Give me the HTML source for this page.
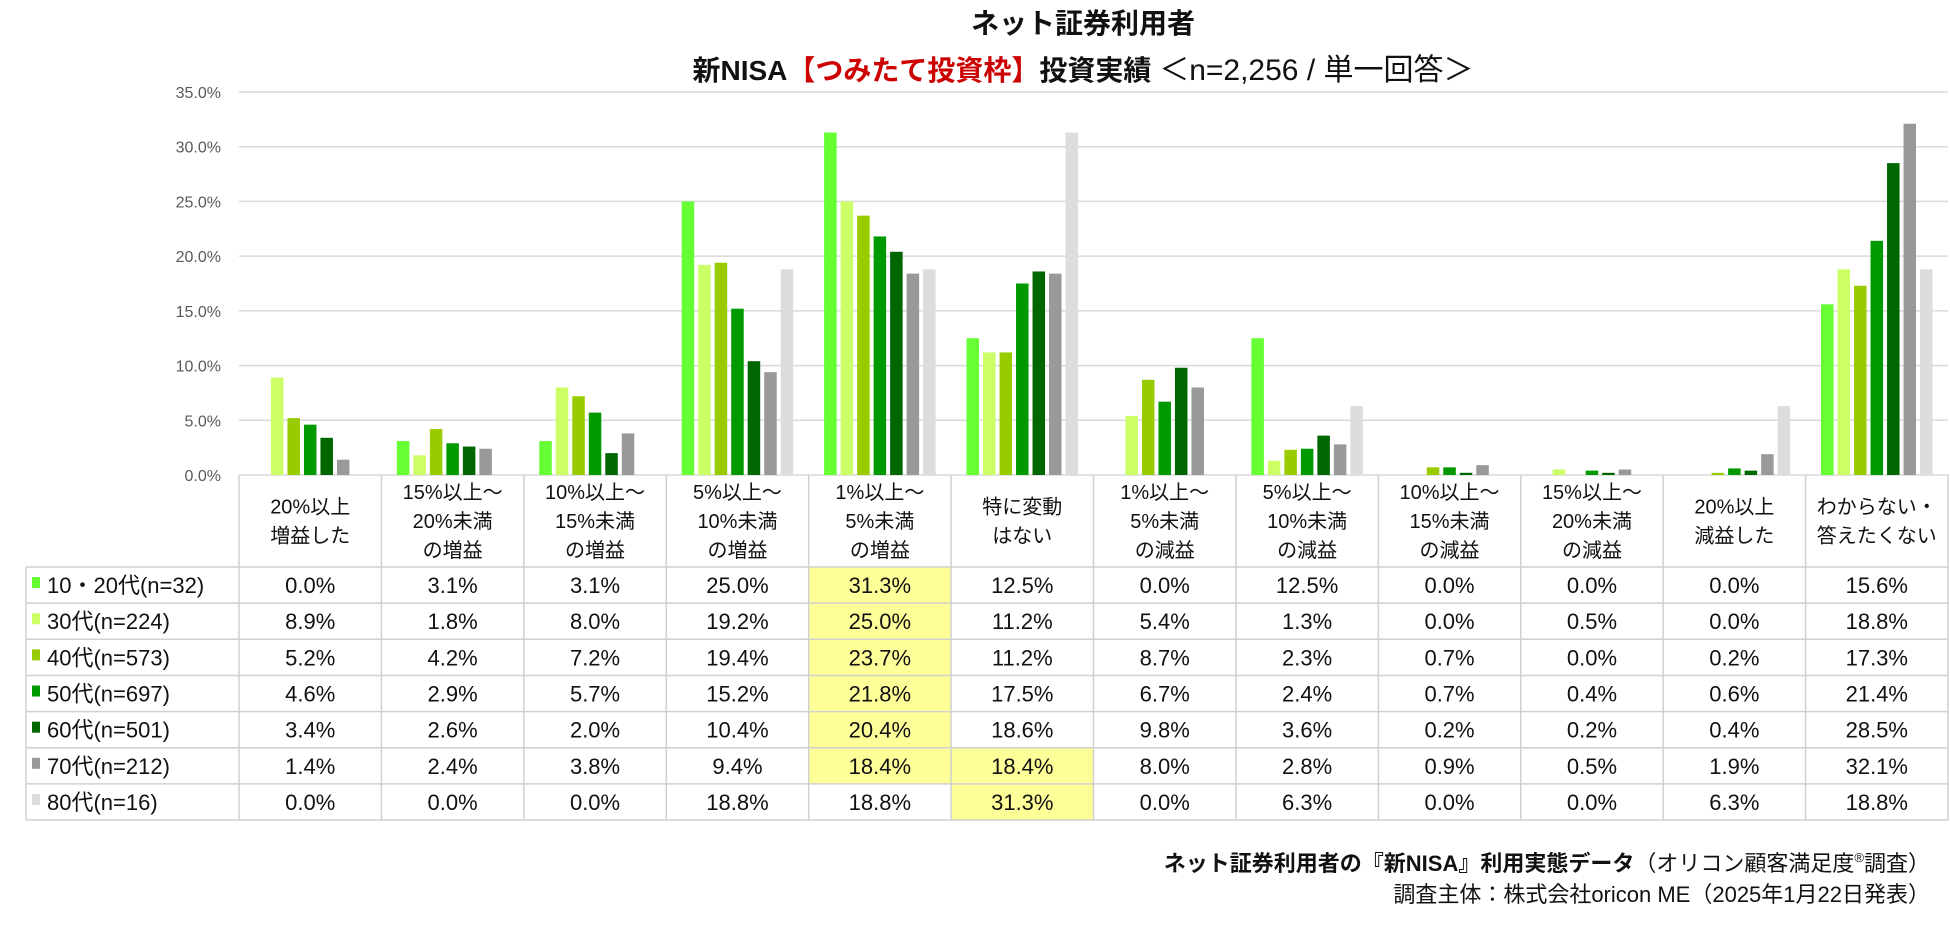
<!DOCTYPE html>
<html><head><meta charset="utf-8">
<style>
html,body{margin:0;padding:0;background:#fff;}
svg{display:block;font-family:"Liberation Sans","Noto Sans CJK JP",sans-serif;}
</style></head>
<body>
<svg id="chart" width="1950" height="929" viewBox="0 0 1950 929" xmlns="http://www.w3.org/2000/svg">
<text x="1083" y="33" text-anchor="middle" font-size="28" font-weight="bold" fill="#111">ネット証券利用者</text>
<text x="1083" y="80" text-anchor="middle" font-size="28" font-weight="bold" fill="#111">新NISA<tspan fill="#cc0000">【つみたて投資枠】</tspan>投資実績 <tspan font-weight="normal" font-size="30">＜n=2,256 / 単一回答＞</tspan></text>
<g id="grid"></g>
<g id="bars"></g>
<g id="table"></g>
<text x="1930" y="871" text-anchor="end" font-size="22" font-weight="bold" fill="#111">ネット証券利用者の『新NISA』利用実態データ<tspan font-weight="normal">（オリコン顧客満足度<tspan font-size="13" dy="-9">®</tspan><tspan dy="9">調査）</tspan></tspan></text>
<text x="1930" y="902" text-anchor="end" font-size="22" fill="#111">調査主体：株式会社oricon ME（2025年1月22日発表）</text>
</svg>
<script>
const categories = [["20%以上","増益した"],["15%以上～","20%未満","の増益"],["10%以上～","15%未満","の増益"],["5%以上～","10%未満","の増益"],["1%以上～","5%未満","の増益"],["特に変動","はない"],["1%以上～","5%未満","の減益"],["5%以上～","10%未満","の減益"],["10%以上～","15%未満","の減益"],["15%以上～","20%未満","の減益"],["20%以上","減益した"],["わからない・","答えたくない"]];
const seriesNames = ["10・20代(n=32)","30代(n=224)","40代(n=573)","50代(n=697)","60代(n=501)","70代(n=212)","80代(n=16)"];
const s1020 = [0.0,3.1,3.1,25.0,31.3,12.5,0.0,12.5,0.0,0.0,0.0,15.6];
const s30 = [8.9,1.8,8.0,19.2,25.0,11.2,5.4,1.3,0.0,0.5,0.0,18.8];
const s40 = [5.2,4.2,7.2,19.4,23.7,11.2,8.7,2.3,0.7,0.0,0.2,17.3];
const s50 = [4.6,2.9,5.7,15.2,21.8,17.5,6.7,2.4,0.7,0.4,0.6,21.4];
const s60 = [3.4,2.6,2.0,10.4,20.4,18.6,9.8,3.6,0.2,0.2,0.4,28.5];
const s70 = [1.4,2.4,3.8,9.4,18.4,18.4,8.0,2.8,0.9,0.5,1.9,32.1];
const s80 = [0.0,0.0,0.0,18.8,18.8,31.3,0.0,6.3,0.0,0.0,6.3,18.8];
const yTicks = [0,5,10,15,20,25,30,35];
const highlights = [[0,4],[1,4],[2,4],[3,4],[4,4],[5,4],[5,5],[6,5]];

const series = [s1020,s30,s40,s50,s60,s70,s80];
const colors = ["#66ff33","#ccff66","#99cc00","#009900","#006600","#999999","#dddddd"];
const NS = "http://www.w3.org/2000/svg";
const plotL = 239, plotR = 1948, y0 = 475, y35 = 92, yMax = 35;
const colW = (plotR - plotL) / categories.length;
function yScale(v){ return y0 - (v / yMax) * (y0 - y35); }
function xGroup(i){ return plotL + i * colW; }
function mk(tag, attrs, parent){ const e = document.createElementNS(NS, tag); for (const k in attrs) e.setAttribute(k, attrs[k]); parent.appendChild(e); return e; }

const grid = document.getElementById('grid');
yTicks.forEach(t => {
  const y = yScale(t);
  const l = mk('line', {x1: plotL, x2: plotR, y1: y, y2: y, stroke: '#d9d9d9', 'stroke-width': 1.5}, grid);
  
  
  const tx = mk('text', {x: 221, y: y + 6, 'text-anchor': 'end', 'font-size': 16, fill: '#595959'}, grid);
  tx.textContent = t.toFixed(1) + '%';
  
  
});

const bars = document.getElementById('bars');
const bw = 12.5, step = 16.5;
series.forEach((s, si) => {
  s.forEach((v, ci) => {
    const cx = xGroup(ci) + colW / 2;
    const x = cx - (step * 7) / 2 + si * step + (step - bw) / 2;
    const y = yScale(v);
    const r = mk('rect', {x: x, y: y, width: bw, height: Math.max(0, y0 - y), fill: colors[si]}, bars);
    
    
  });
});

const table = document.getElementById('table');
const hTop = 475, hBot = 567, rowH = 36.15, tL = 26;
const nRows = series.length;
const tBot = hBot + rowH * nRows;
highlights.forEach(h => {
  const r = mk('rect', {x: xGroup(h[1]), y: hBot + rowH * h[0], width: colW, height: rowH, fill: '#ffff99'}, table);
  
  
});
const bc = '#d0d0d0';
for (let i = 0; i <= categories.length; i++) {
  const x = xGroup(i);
  mk('line', {x1: x, x2: x, y1: hTop, y2: tBot, stroke: bc, 'stroke-width': 1.5}, table);
}
mk('line', {x1: tL, x2: tL, y1: hBot, y2: tBot, stroke: bc, 'stroke-width': 1.5}, table);
for (let r = 0; r <= nRows; r++) {
  const y = hBot + rowH * r;
  mk('line', {x1: tL, x2: plotR, y1: y, y2: y, stroke: bc, 'stroke-width': 1.5}, table);
}
categories.forEach((lines, ci) => {
  const cx = xGroup(ci) + colW / 2;
  const lh = 29;
  const startY = (hTop + hBot) / 2 - (lines.length - 1) * lh / 2 + 7;
  const t = mk('text', {'text-anchor': 'middle', 'font-size': 20, fill: '#111'}, table);
  
  
  lines.forEach((ln, li) => {
    const ts = mk('tspan', {x: cx, y: startY + li * lh}, t);
    ts.textContent = ln;
  });
});
series.forEach((s, si) => {
  const cy = hBot + rowH * si + rowH / 2;
  const sq = mk('rect', {x: 32, y: cy - 8, width: 8, height: 11, fill: colors[si]}, table);
  
  
  const lb = mk('text', {x: 47, y: cy + 8, 'font-size': 22, fill: '#111'}, table);
  lb.textContent = seriesNames[si];
  
  
  s.forEach((v, ci) => {
    const t = mk('text', {x: xGroup(ci) + colW / 2, y: cy + 8, 'text-anchor': 'middle', 'font-size': 22, fill: '#111'}, table);
    t.textContent = v.toFixed(1) + '%';
    
    
  });
});
</script>
</body></html>
